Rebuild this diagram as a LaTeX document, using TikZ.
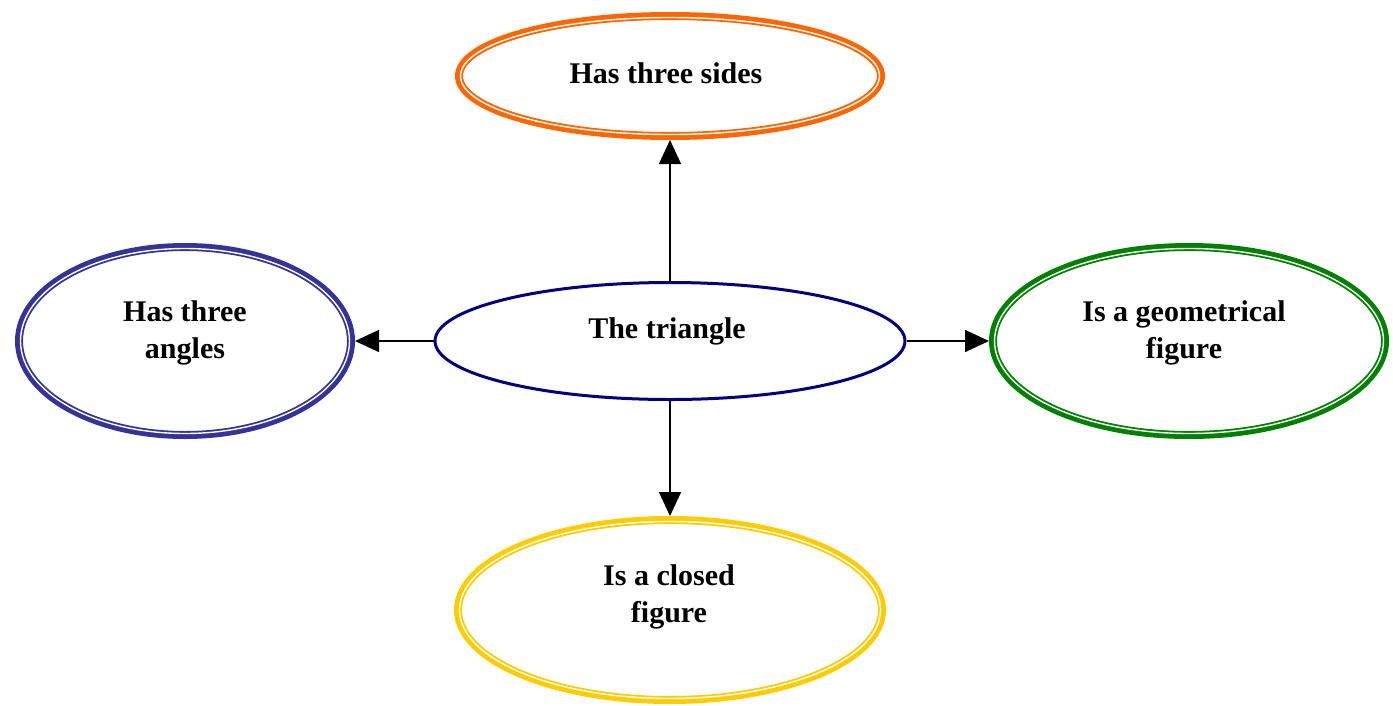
\documentclass[tikz,border=0pt]{standalone}
\usepackage{fontspec}
\setmainfont{Liberation Serif}
\usetikzlibrary{shapes.geometric,arrows.meta}
\definecolor{sideorange}{HTML}{FF6600}
\definecolor{angleblue}{HTML}{333399}
\definecolor{figgreen}{HTML}{008000}
\definecolor{closedyellow}{HTML}{FFCC00}
\definecolor{corenavy}{HTML}{000080}
\tikzset{
  bubble/.style={ellipse, inner sep=0pt, line width=8pt, fill=white},
  core/.style={ellipse, inner sep=0pt, line width=3pt, draw=corenavy, fill=white},
  inring/.style={draw=white, line width=1.4pt},
  caption/.style={font=\bfseries\fontsize{30}{37}\selectfont, align=center, inner sep=0pt},
  link/.style={line width=1.6pt, -{Triangle[length=24pt,width=22pt]}}
}
\begin{document}
\begin{tikzpicture}[x=1pt,y=-1pt]
\useasboundingbox (0,0) rectangle (1393,705);

% concept bubbles
\node[core, minimum width=470pt, minimum height=117pt] (tri) at (670,341) {};
\node[bubble, draw=sideorange, minimum width=422pt, minimum height=120pt] (sides) at (670,76) {};
\node[bubble, draw=angleblue, minimum width=332pt, minimum height=188pt] (angles) at (185,341) {};
\node[bubble, draw=figgreen, minimum width=392pt, minimum height=188pt] (geom) at (1189,341) {};
\node[bubble, draw=closedyellow, minimum width=424pt, minimum height=180pt] (closed) at (670,610) {};

% thin white ring inside each bold outline
\draw[inring] (sides.center) ellipse [x radius=209.5pt, y radius=58.5pt];
\draw[inring] (angles.center) ellipse [x radius=164.5pt, y radius=92.5pt];
\draw[inring] (geom.center) ellipse [x radius=194.5pt, y radius=92.5pt];
\draw[inring] (closed.center) ellipse [x radius=210.5pt, y radius=88.5pt];

% labels
\node[caption] (tTri) at (667,331) {The triangle};
\node[caption] (tSides) at (666,73) {Has three sides};
\node[caption] (tAngles) at (185,333) {Has three\\angles};
\node[caption] (tGeom) at (1184,333) {Is a geometrical\\figure};
\node[caption] (tClosed) at (669,597) {Is a closed\\figure};

% connectors
\draw[link] (tri.north) -- (sides.south);
\draw[link] (tri.west) -- (angles.east);
\draw[link] (tri.east) -- (geom.west);
\draw[link] (tri.south) -- (closed.north);
\end{tikzpicture}
\end{document}
